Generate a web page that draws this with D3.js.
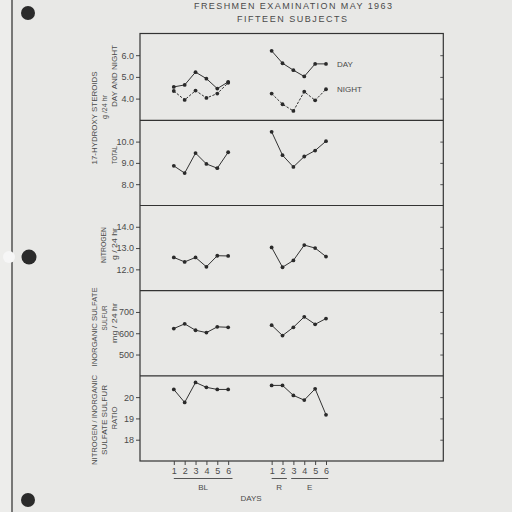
<!DOCTYPE html>
<html>
<head>
<meta charset="utf-8">
<script src="https://cdn.jsdelivr.net/npm/d3@7/dist/d3.min.js"></script>
<style>
  html, body { margin: 0; padding: 0; background: #e8e8e6; }
  svg { display: block; }
  text { font-family: "Liberation Sans", Arial, sans-serif; fill: #4a4a4a; }
</style>
</head>
<body>
<svg id="chart" width="512" height="512"></svg>
<script>
// ---------------- data ----------------
const titleLines = ["FRESHMEN  EXAMINATION  MAY  1963", "FIFTEEN  SUBJECTS"];
const dayLabels = ["1", "2", "3", "4", "5", "6"];
const groups = ["BL", "R", "E"];
const blSlots = [0, 1, 2, 3, 4, 5];
const reSlots = [9, 10, 11, 12, 13, 14];

const steroidDayBL   = [4.54, 4.63, 5.22, 4.92, 4.46, 4.77];
const steroidDayRE   = [6.20, 5.63, 5.31, 5.02, 5.60, 5.60];
const steroidNightBL = [4.35, 3.94, 4.37, 4.03, 4.23, 4.73];
const steroidNightRE = [4.23, 3.74, 3.43, 4.32, 3.92, 4.43];
const totalBL        = [8.86, 8.52, 9.46, 8.95, 8.75, 9.50];
const totalRE        = [10.46, 9.36, 8.81, 9.30, 9.58, 10.02];
const nitrogenBL     = [12.56, 12.35, 12.56, 12.12, 12.64, 12.63];
const nitrogenRE     = [13.03, 12.10, 12.42, 13.14, 13.00, 12.60];
const sulfurBL       = [622, 644, 614, 603, 630, 628];
const sulfurRE       = [638, 589, 628, 677, 642, 669];
const ratioBL        = [20.36, 19.75, 20.69, 20.46, 20.36, 20.36];
const ratioRE        = [20.55, 20.55, 20.08, 19.86, 20.39, 19.17];

const steroidTicks  = [4, 5, 6];
const totalTicks    = [8, 9, 10];
const nitrogenTicks = [12, 13, 14];
const sulfurTicks   = [500, 600, 700];
const ratioTicks    = [18, 19, 20];

// ---------------- layout ----------------
const svg = d3.select("#chart");
const left = 140, right = 443.3;
const frameTop = 33.5, bottom = 461;
const firstDiv = 120.3;
const ph = (bottom - firstDiv) / 4;
const panelBounds = [
  [frameTop, firstDiv],
  [firstDiv, firstDiv + ph],
  [firstDiv + ph, firstDiv + 2 * ph],
  [firstDiv + 2 * ph, firstDiv + 3 * ph],
  [firstDiv + 3 * ph, bottom]
];

const x = d3.scaleLinear().domain([0, 14]).range([173.8, 326]);

// page decorations (scan)
svg.append("rect").attr("x", 0).attr("y", 0).attr("width", 12).attr("height", 512).attr("fill", "#ededeb");
svg.append("line").attr("x1", 12).attr("x2", 12).attr("y1", 0).attr("y2", 512)
  .attr("stroke", "#5a5a5a").attr("stroke-width", 1.6);
svg.append("circle").attr("cx", 9).attr("cy", 257).attr("r", 6).attr("fill", "#f6f6f6");
[[28, 13, 7], [29, 257, 7.5], [28, 500, 7]].forEach(([cx, cy, r]) =>
  svg.append("circle").attr("cx", cx).attr("cy", cy).attr("r", r).attr("fill", "#2b2b2b"));

// title
svg.append("text").attr("x", 293).attr("y", 8.5).attr("text-anchor", "middle")
  .attr("font-size", 9).attr("textLength", 198).attr("lengthAdjust", "spacing")
  .text(titleLines[0]);
svg.append("text").attr("x", 292).attr("y", 21.5).attr("text-anchor", "middle")
  .attr("font-size", 9).attr("textLength", 110).attr("lengthAdjust", "spacing")
  .text(titleLines[1]);

const panels = [
  { domain: [3, 7], ticks: steroidTicks, fmt: d3.format(".1f"),
    series: [
      { bl: steroidDayBL, re: steroidDayRE, dash: null },
      { bl: steroidNightBL, re: steroidNightRE, dash: "2.5,1.5" }
    ] },
  { domain: [7, 11], ticks: totalTicks, fmt: d3.format(".1f"),
    series: [{ bl: totalBL, re: totalRE, dash: null }] },
  { domain: [11, 15], ticks: nitrogenTicks, fmt: d3.format(".1f"),
    series: [{ bl: nitrogenBL, re: nitrogenRE, dash: null }] },
  { domain: [400, 800], ticks: sulfurTicks, fmt: d3.format("d"),
    series: [{ bl: sulfurBL, re: sulfurRE, dash: null }] },
  { domain: [17, 21], ticks: ratioTicks, fmt: d3.format("d"),
    series: [{ bl: ratioBL, re: ratioRE, dash: null }] }
];

const line = d3.line();

panels.forEach((p, i) => {
  const [t, b] = panelBounds[i];
  const y = d3.scaleLinear().domain(p.domain).range([b, t]);

  const gl = svg.append("g").attr("transform", `translate(${left},0)`)
    .call(d3.axisLeft(y).tickValues(p.ticks).tickSize(4).tickPadding(2).tickFormat(p.fmt));
  gl.select(".domain").remove();
  gl.selectAll("line").attr("stroke", "#444");
  gl.selectAll("text").attr("font-size", 9).attr("font-family", "Liberation Sans, Arial, sans-serif").attr("fill", "#4a4a4a");

  const gr = svg.append("g").attr("transform", `translate(${right},0)`)
    .call(d3.axisLeft(y).tickValues(p.ticks).tickSize(3).tickFormat(""));
  gr.select(".domain").remove();
  gr.selectAll("line").attr("stroke", "#555");

  p.series.forEach(s => {
    [[blSlots, s.bl], [reSlots, s.re]].forEach(([slots, vals]) => {
      const pts = vals.map((v, k) => [x(slots[k]), y(v)]);
      svg.append("path").attr("d", line(pts)).attr("fill", "none")
        .attr("stroke", "#333").attr("stroke-width", 1)
        .attr("stroke-dasharray", s.dash);
      svg.append("g").selectAll("circle").data(pts).join("circle")
        .attr("cx", d => d[0]).attr("cy", d => d[1]).attr("r", 1.9).attr("fill", "#2a2a2a");
    });
  });

  if (i > 0) {
    svg.append("line").attr("x1", left).attr("x2", right).attr("y1", t).attr("y2", t)
      .attr("stroke", "#333").attr("stroke-width", 1.2);
  }
});

// frame
svg.append("rect").attr("x", left).attr("y", frameTop).attr("width", right - left)
  .attr("height", bottom - frameTop).attr("fill", "none").attr("stroke", "#333").attr("stroke-width", 1.2);

// DAY / NIGHT labels
svg.append("text").attr("x", 337).attr("y", 67).attr("font-size", 8).text("DAY");
svg.append("text").attr("x", 337).attr("y", 92).attr("font-size", 8).text("NIGHT");

// y-axis titles (rotated)
const yTitles = [
  ["DAY AND NIGHT", 114, 76, 62],
  ["17-HYDROXY STEROIDS", 94, 118, 93],
  ["g /24 hr", 104, 107, 24],
  ["TOTAL", 114, 155, 18],
  ["NITROGEN", 103, 245, 36],
  ["g / 24 hr", 114, 244, 32],
  ["INORGANIC SULFATE", 94, 327, 79],
  ["SULFUR", 104, 318, 25],
  ["mg / 24 hr", 114, 323, 40],
  ["NITROGEN / INORGANIC", 94, 420, 90],
  ["SULFATE SULFUR", 104, 420, 70],
  ["RATIO", 114, 418, 23]
];
yTitles.forEach(([txt, cx, cy, len]) => {
  svg.append("text")
    .attr("transform", `translate(${cx + 3},${cy}) rotate(-90)`)
    .attr("text-anchor", "middle").attr("font-size", 8)
    .attr("textLength", len).attr("lengthAdjust", "spacingAndGlyphs")
    .text(txt);
});

// x axis
const allSlots = blSlots.concat(reSlots);
const gx = svg.append("g").attr("transform", `translate(0,${bottom})`)
  .call(d3.axisBottom(x).tickValues(allSlots).tickSize(4).tickPadding(3)
    .tickFormat(d => dayLabels[allSlots.indexOf(d) % 6]));
gx.select(".domain").remove();
gx.selectAll("line").attr("stroke", "#444");
gx.selectAll("text").attr("font-size", 9).attr("font-family", "Liberation Sans, Arial, sans-serif").attr("fill", "#4a4a4a");

// group underlines and labels
const groupSpans = [[blSlots[0], blSlots[5] + 0.4], [reSlots[0], reSlots[1] + 0.4], [reSlots[2] - 0.2, reSlots[5] + 0.2]];
groupSpans.forEach(([a, b], k) => {
  svg.append("line").attr("x1", x(a)).attr("x2", x(b)).attr("y1", 478.5).attr("y2", 478.5)
    .attr("stroke", "#555").attr("stroke-width", 1);
  svg.append("text").attr("x", (x(a) + x(b)) / 2).attr("y", 490).attr("text-anchor", "middle")
    .attr("font-size", 8).text(groups[k]);
});
svg.append("text").attr("x", 251).attr("y", 501).attr("text-anchor", "middle")
  .attr("font-size", 8).text("DAYS");
</script>
</body>
</html>
